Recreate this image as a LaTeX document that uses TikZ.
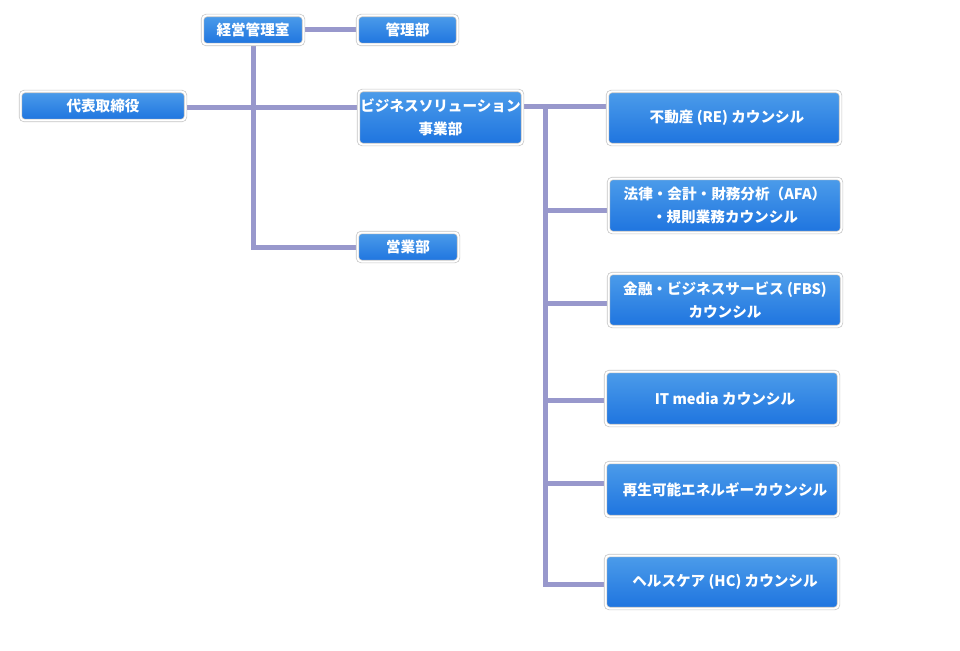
\documentclass[tikz,border=0pt]{standalone}
\usepackage{fontspec}
\usetikzlibrary{backgrounds}
\setmainfont{Noto Sans CJK JP}
\definecolor{btop}{HTML}{4C9CEA}
\definecolor{bbot}{HTML}{1E74DF}
\definecolor{conncol}{HTML}{9898CC}
\definecolor{outl}{HTML}{C4C4C4}
\tikzset{
  orgbox/.style={rounded corners=4pt, top color=btop, bottom color=bbot,
    draw=outl, double=white, double distance=2pt, line width=0.7pt,
    text=white, font=\fontsize{14.6}{23}\selectfont\bfseries,
    inner sep=0pt, align=center},
  small/.style={orgbox, minimum width=101pt, minimum height=29pt},
  wide/.style={orgbox, minimum width=233pt, minimum height=53pt},
  conn/.style={draw=conncol, line width=5pt, line join=miter}
}
\begin{document}
\begin{tikzpicture}[x=1pt,y=-1pt]
\useasboundingbox (0,0) rectangle (960,650);
\coordinate (bt) at (545,107);
\node[small] (keiei) at (253,30) {経営管理室};
\node[small, minimum width=100pt] (kanri) at (407.5,30) {管理部};
\node[small, minimum width=165pt] (ceo) at (103,106) {代表取締役};
\node[orgbox, minimum width=164pt, minimum height=54pt] (biz) at (440.5,117.5) {ビジネスソリューション\\事業部};
\node[small] (eigyo) at (408,247) {営業部};
\node[wide] (re) at (724,118) {\hspace*{6pt}不動産 (RE) カウンシル};
\node[wide, minimum height=54pt] (law) at (725,205.5) {法律・会計・財務分析（AFA）\\・規則業務カウンシル};
\node[wide] (fbs) at (725,300) {金融・ビジネスサービス (FBS)\\カウンシル};
\node[wide, minimum height=54pt] (it) at (722,398.5) {\hspace*{6pt}IT media カウンシル};
\node[wide, minimum height=54pt] (renew) at (722,489.5) {\hspace*{6pt}再生可能エネルギーカウンシル};
\node[wide] (hc) at (722,582) {\hspace*{6pt}ヘルスケア (HC) カウンシル};
\begin{scope}[on background layer]
\draw[conn] (keiei.east) -- (kanri.west);
\draw[conn] (keiei.south) |- (eigyo.west);
\draw[conn] ([yshift=-2pt]ceo.east) -- ([yshift=-2pt]ceo.east -| biz.west);
\draw[conn] (biz.east |- bt) -- (re.west |- bt);
\draw[conn] (bt) -- ([yshift=-2pt]bt |- hc.west) -- ([yshift=-2pt]hc.west);
\draw[conn] ([yshift=-5pt]bt |- law.west) -- ([yshift=-5pt]law.west);
\draw[conn] ([yshift=-3pt]bt |- fbs.west) -- ([yshift=-3pt]fbs.west);
\draw[conn] ([yshift=-2pt]bt |- it.west) -- ([yshift=-2pt]it.west);
\draw[conn] ([yshift=6pt]bt |- renew.west) -- ([yshift=6pt]renew.west);
\end{scope}
\end{tikzpicture}
\end{document}
